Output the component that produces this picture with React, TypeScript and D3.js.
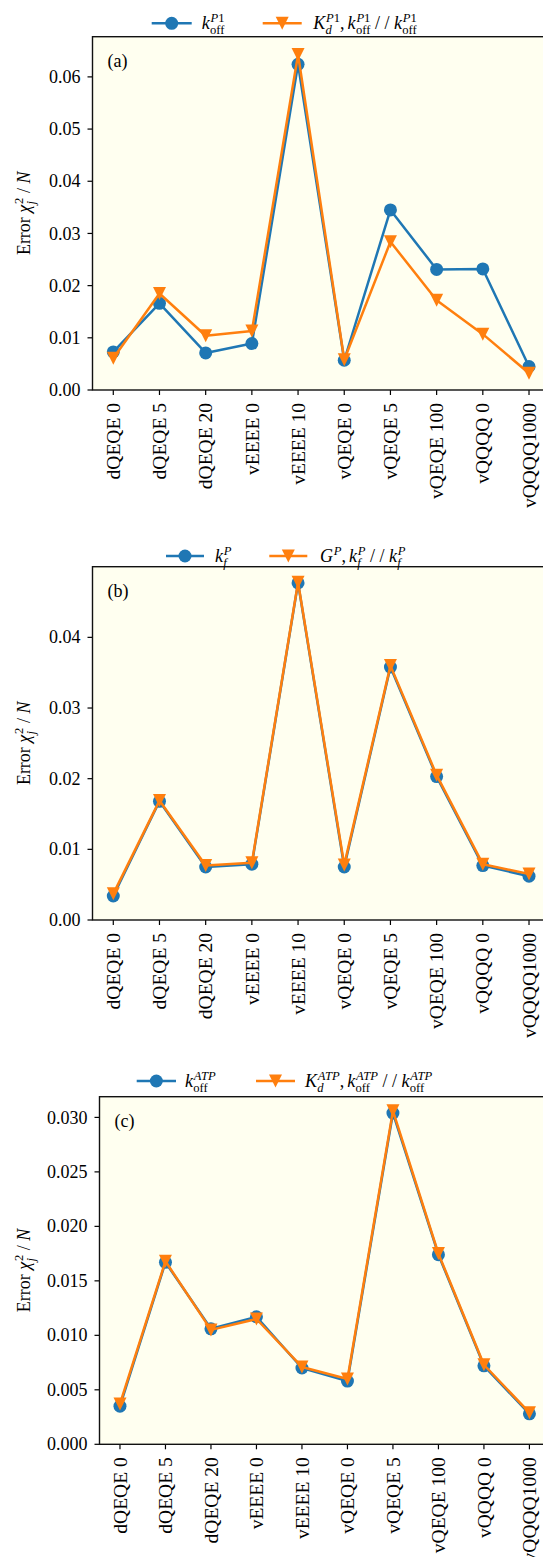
import React, { useEffect, useRef } from 'react';
import * as d3 from 'd3';

const categories = ['dQEQE 0', 'dQEQE 5', 'dQEQE 20', 'vEEEE 0', 'vEEEE 10', 'vQEQE 0', 'vQEQE 5', 'vQEQE 100', 'vQQQQ 0', 'vQQQQ1000'];

const aBlue = [0.0073, 0.0166, 0.0071, 0.0089, 0.0624, 0.0057, 0.0345, 0.0231, 0.0232, 0.0045];
const aOrange = [0.0061, 0.0185, 0.0104, 0.0113, 0.0643, 0.0058, 0.0284, 0.0172, 0.0107, 0.0032];

const bBlue = [0.0034, 0.0168, 0.0075, 0.0079, 0.0477, 0.0075, 0.0358, 0.0203, 0.0077, 0.0062];
const bOrange = [0.0037, 0.0169, 0.0077, 0.0081, 0.0478, 0.0078, 0.0360, 0.0205, 0.0079, 0.0065];

const cBlue = [0.0035, 0.0167, 0.0106, 0.0117, 0.0070, 0.0058, 0.0304, 0.0174, 0.0072, 0.0028];
const cOrange = [0.0037, 0.0168, 0.0105, 0.0115, 0.0071, 0.0060, 0.0306, 0.0175, 0.0073, 0.0029];

const aTicks = [0, 0.01, 0.02, 0.03, 0.04, 0.05, 0.06];
const bTicks = [0, 0.01, 0.02, 0.03, 0.04];
const cTicks = [0, 0.005, 0.01, 0.015, 0.02, 0.025, 0.03];

const BLUE = '#1f77b4';
const ORANGE = '#ff7f0e';
const FONT = "'Liberation Serif', 'DejaVu Serif', serif";
const FS = 18;
const XFS = 19.5;

type Part = [string, boolean];
type Tok = { base: Part[]; sup?: Part[]; sub?: Part[]; dx?: number };

const P1: Part[] = [['P', true], ['1', false]];
const ATP: Part[] = [['ATP', true]];
const Pp: Part[] = [['P', true]];
const OFF: Part[] = [['off', false]];

const legendA: Tok[][] = [
  [{ base: [['k', true]], sup: P1, sub: OFF }],
  [
    { base: [['K', true]], sup: P1, sub: [['d', true]] },
    { base: [[',', false]] },
    { base: [['k', true]], sup: P1, sub: OFF, dx: 3 },
    { base: [[' / / ', false]] },
    { base: [['k', true]], sup: P1, sub: OFF },
  ],
];
const legendB: Tok[][] = [
  [{ base: [['k', true]], sup: Pp, sub: [['f', true]] }],
  [
    { base: [['G', true]], sup: Pp },
    { base: [[',', false]] },
    { base: [['k', true]], sup: Pp, sub: [['f', true]], dx: 3 },
    { base: [[' / / ', false]] },
    { base: [['k', true]], sup: Pp, sub: [['f', true]] },
  ],
];
const legendC: Tok[][] = [
  [{ base: [['k', true]], sup: ATP, sub: OFF }],
  [
    { base: [['K', true]], sup: ATP, sub: [['d', true]] },
    { base: [[',', false]] },
    { base: [['k', true]], sup: ATP, sub: OFF, dx: 3 },
    { base: [[' / / ', false]] },
    { base: [['k', true]], sup: ATP, sub: OFF },
  ],
];
const yLabel: Tok[] = [
  { base: [['Error ', false]] },
  { base: [['χ', true]], sup: [['2', false]], sub: [['j', true]] },
  { base: [[' / ', false]] },
  { base: [['N', true]] },
];

const panels = [
  { blue: aBlue, orange: aOrange, ticks: aTicks, fmt: '.2f', ymax: 0.0677, left: 92.5, right: 549.8, top: 36.7, bottom: 390, tag: '(a)', legend: legendA, legY: 23.3, leg: [[151.7, 191.7, 201.7], [262.7, 301.7, 313.3]] },
  { blue: bBlue, orange: bOrange, ticks: bTicks, fmt: '.2f', ymax: 0.05, left: 92.5, right: 549.8, top: 566.7, bottom: 920, tag: '(b)', legend: legendB, legY: 556, leg: [[166, 204, 215], [269.3, 307.3, 320]] },
  { blue: cBlue, orange: cOrange, ticks: cTicks, fmt: '.3f', ymax: 0.0319, left: 99.5, right: 549.9, top: 1096.7, bottom: 1444.3, tag: '(c)', legend: legendC, legY: 1081, leg: [[136.7, 176, 185], [256, 295, 305]] },
];

function addParts(sel: any, parts: Part[]) {
  parts.forEach(([s, it]) => {
    sel.append('tspan').attr('font-style', it ? 'italic' : 'normal').text(s);
  });
}

function drawMath(g: any, toks: Tok[], fs: number) {
  let x = 0;
  toks.forEach((tok) => {
    x += tok.dx || 0;
    const b = g.append('text').attr('x', x).attr('y', 0).attr('font-size', fs).style('white-space', 'pre');
    addParts(b, tok.base);
    x += (b.node() as SVGTextElement).getComputedTextLength();
    let sw = 0;
    if (tok.sup) {
      const s = g.append('text').attr('x', x + 0.8).attr('y', -0.4 * fs).attr('font-size', 0.7 * fs);
      addParts(s, tok.sup);
      sw = Math.max(sw, (s.node() as SVGTextElement).getComputedTextLength() + 0.8);
    }
    if (tok.sub) {
      const s = g.append('text').attr('x', x + 0.3).attr('y', 0.27 * fs).attr('font-size', 0.7 * fs);
      addParts(s, tok.sub);
      sw = Math.max(sw, (s.node() as SVGTextElement).getComputedTextLength() + 0.3);
    }
    x += sw;
  });
  return x;
}

const TRI = 'M-6.5,-6.5L6.5,-6.5L0,6.5Z';

export default function App() {
  const ref = useRef<SVGSVGElement>(null);
  useEffect(() => {
    const svg = d3.select(ref.current);
    svg.selectAll('*').remove();
    svg.attr('font-family', FONT).attr('fill', '#000');

    panels.forEach((p) => {
      const x = d3.scaleLinear().domain([-0.45, categories.length - 1 + 0.45]).range([p.left, p.right]);
      const y = d3.scaleLinear().domain([0, p.ymax]).range([p.bottom, p.top]);
      const g = svg.append('g');

      g.append('rect').attr('x', p.left).attr('y', p.top).attr('width', p.right - p.left).attr('height', p.bottom - p.top).attr('fill', '#fffff0');

      const fmt = d3.format(p.fmt);
      p.ticks.forEach((t) => {
        g.append('line').attr('x1', p.left - 5).attr('x2', p.left).attr('y1', y(t)).attr('y2', y(t)).attr('stroke', '#000').attr('stroke-width', 1.2);
        g.append('text').attr('x', p.left - 12).attr('y', y(t)).attr('dy', '0.34em').attr('text-anchor', 'end').attr('font-size', FS).text(fmt(t));
      });
      categories.forEach((c, i) => {
        g.append('line').attr('x1', x(i)).attr('x2', x(i)).attr('y1', p.bottom).attr('y2', p.bottom + 5).attr('stroke', '#000').attr('stroke-width', 1.2);
        g.append('text').attr('transform', `translate(${x(i)},${p.bottom + 13}) rotate(-90)`).attr('dy', '0.34em').attr('text-anchor', 'end').attr('font-size', XFS).style('white-space', 'pre').text(c);
      });

      const line = d3.line<number>().x((_, i) => x(i)).y((d) => y(d));
      g.append('path').attr('d', line(p.blue)).attr('fill', 'none').attr('stroke', BLUE).attr('stroke-width', 2.5).attr('stroke-linejoin', 'round');
      p.blue.forEach((v, i) => g.append('circle').attr('cx', x(i)).attr('cy', y(v)).attr('r', 6.5).attr('fill', BLUE));
      g.append('path').attr('d', line(p.orange)).attr('fill', 'none').attr('stroke', ORANGE).attr('stroke-width', 2.5).attr('stroke-linejoin', 'round');
      p.orange.forEach((v, i) => g.append('path').attr('d', TRI).attr('transform', `translate(${x(i)},${y(v)})`).attr('fill', ORANGE));

      g.append('rect').attr('x', p.left).attr('y', p.top).attr('width', p.right - p.left).attr('height', p.bottom - p.top).attr('fill', 'none').attr('stroke', '#111').attr('stroke-width', 1.4);

      g.append('text').attr('x', p.left + 15).attr('y', p.top + 30).attr('font-size', FS).text(p.tag);

      const yl = g.append('g').attr('transform', `translate(30,${(p.top + p.bottom) / 2}) rotate(-90)`);
      const inner = yl.append('g');
      const w = drawMath(inner, yLabel, FS);
      inner.attr('transform', `translate(${-w / 2},0)`);

      const colors = [BLUE, ORANGE];
      p.leg.forEach(([x1, x2, tx], k) => {
        g.append('line').attr('x1', x1).attr('x2', x2).attr('y1', p.legY).attr('y2', p.legY).attr('stroke', colors[k]).attr('stroke-width', 2.5);
        const mx = (x1 + x2) / 2;
        if (k === 0) g.append('circle').attr('cx', mx).attr('cy', p.legY).attr('r', 6.5).attr('fill', BLUE);
        else g.append('path').attr('d', TRI).attr('transform', `translate(${mx},${p.legY})`).attr('fill', ORANGE);
        const lg = g.append('g').attr('transform', `translate(${tx},${p.legY + 6})`);
        drawMath(lg, p.legend[k], FS);
      });
    });
  }, []);
  return (
    <svg ref={ref} width={543} height={1557} style={{ position: 'absolute', left: 0, top: 0, background: '#fff' }} />
  );
}
